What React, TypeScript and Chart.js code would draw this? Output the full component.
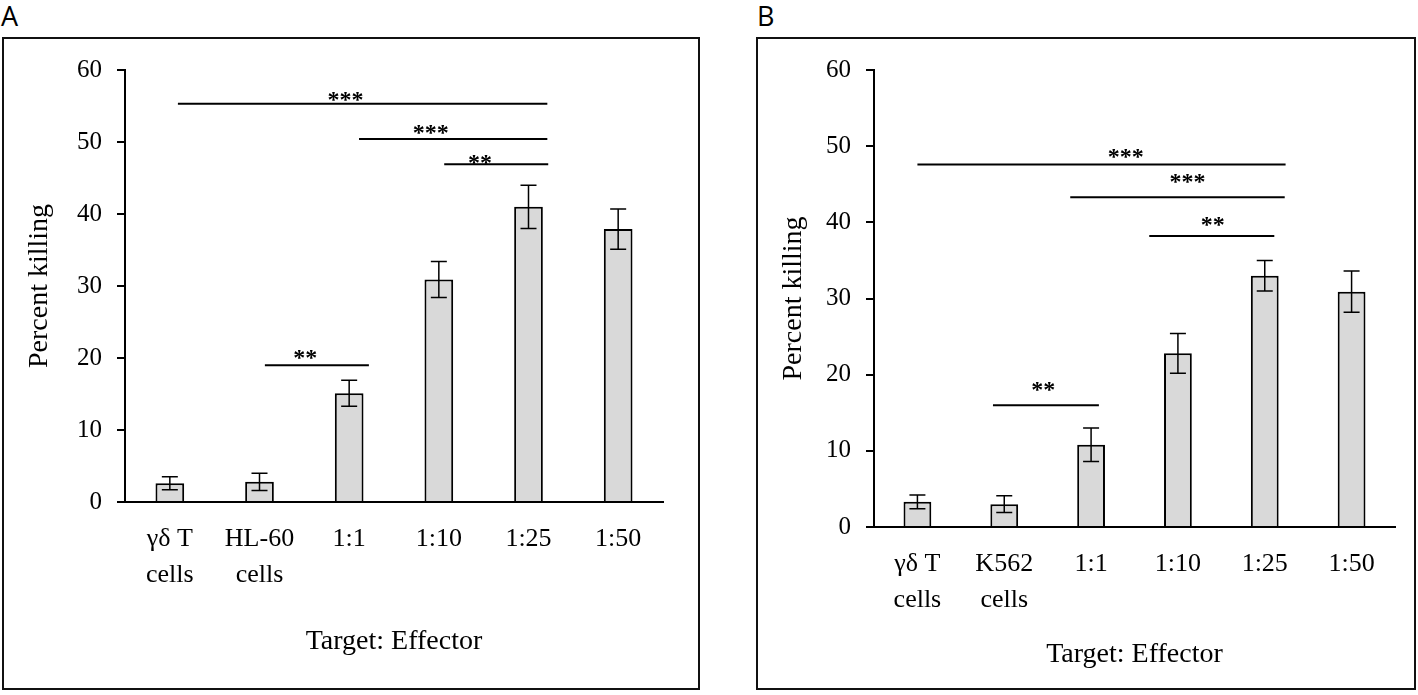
import { useEffect, useRef } from 'react';
import { Chart, registerables } from 'chart.js';

Chart.register(...registerables);

const SERIF = "'Liberation Serif', 'Times New Roman', serif";

// Panel A: HL-60 target cells
const categoriesA = [['γδ T', 'cells'], ['HL-60', 'cells'], '1:1', '1:10', '1:25', '1:50'];
const killingA = [2.6, 2.8, 15.1, 30.9, 41.0, 37.9];
const errorA = [0.9, 1.2, 1.8, 2.5, 3.0, 2.8];
// significance bars: from/to in category index, y in percent, star label position
const sigA = [
  { from: 0.09, to: 4.21, y: 55.3, text: '***', tx: 1.96, ty: 56.5 },
  { from: 2.11, to: 4.21, y: 50.4, text: '***', tx: 2.91, ty: 51.9 },
  { from: 3.06, to: 4.22, y: 46.9, text: '**', tx: 3.46, ty: 47.8 },
  { from: 1.06, to: 2.22, y: 19.0, text: '**', tx: 1.51, ty: 20.7 },
];

// Panel B: K562 target cells
const categoriesB = [['γδ T', 'cells'], ['K562', 'cells'], '1:1', '1:10', '1:25', '1:50'];
const killingB = [3.3, 3.0, 10.8, 22.8, 33.0, 30.9];
const errorB = [0.9, 1.1, 2.2, 2.6, 2.0, 2.7];
const sigB = [
  { from: 0.0, to: 4.24, y: 47.6, text: '***', tx: 2.4, ty: 49.2 },
  { from: 1.76, to: 4.23, y: 43.3, text: '***', tx: 3.11, ty: 45.9 },
  { from: 2.67, to: 4.11, y: 38.2, text: '**', tx: 3.4, ty: 40.3 },
  { from: 0.87, to: 2.09, y: 16.0, text: '**', tx: 1.45, ty: 18.6 },
];

const yMin = 0;
const yMax = 60;
const yStep = 10;

type Sig = { from: number; to: number; y: number; text: string; tx: number; ty: number };

const Panel = ({
  letter,
  left,
  width,
  labels,
  values,
  errors,
  sigs,
  yWidth,
  xHeight,
  pad,
}: {
  letter: string;
  left: number;
  width: number;
  labels: (string | string[])[];
  values: number[];
  errors: number[];
  sigs: Sig[];
  yWidth: number;
  xHeight: number;
  pad: { left: number; right: number; top: number; bottom: number };
}) => {
  const chartRef = useRef<HTMLCanvasElement | null>(null);

  useEffect(() => {
    if (!chartRef.current) return;

    // error bars + significance brackets
    const marks = {
      id: 'marks',
      afterDatasetsDraw(chart: any) {
        const { ctx } = chart;
        const x = chart.scales.x;
        const y = chart.scales.y;
        ctx.save();
        ctx.strokeStyle = '#000';
        ctx.lineWidth = 1.5;
        errors.forEach((e, i) => {
          const cx = x.getPixelForValue(i);
          const top = y.getPixelForValue(values[i] + e);
          const bot = y.getPixelForValue(values[i] - e);
          ctx.beginPath();
          ctx.moveTo(cx, top);
          ctx.lineTo(cx, bot);
          ctx.moveTo(cx - 8, top);
          ctx.lineTo(cx + 8, top);
          ctx.moveTo(cx - 8, bot);
          ctx.lineTo(cx + 8, bot);
          ctx.stroke();
        });
        ctx.lineWidth = 2;
        ctx.fillStyle = '#000';
        ctx.font = `bold 24px ${SERIF}`;
        ctx.textAlign = 'center';
        ctx.textBaseline = 'alphabetic';
        sigs.forEach((s) => {
          const py = y.getPixelForValue(s.y);
          ctx.beginPath();
          ctx.moveTo(x.getPixelForValue(s.from), py);
          ctx.lineTo(x.getPixelForValue(s.to), py);
          ctx.stroke();
          ctx.fillText(s.text, x.getPixelForValue(s.tx), y.getPixelForValue(s.ty) + 12);
        });
        ctx.restore();
      },
    };

    const chart = new Chart(chartRef.current, {
      type: 'bar',
      data: {
        labels,
        datasets: [
          {
            data: values,
            backgroundColor: '#d9d9d9',
            borderColor: '#000',
            borderWidth: 2,
            barPercentage: 0.32,
            categoryPercentage: 1,
          },
        ],
      },
      options: {
        animation: false,
        responsive: true,
        maintainAspectRatio: false,
        layout: { padding: pad },
        plugins: {
          legend: { display: false },
          tooltip: { enabled: false },
        },
        scales: {
          x: {
            grid: { display: false, drawTicks: false },
            border: { display: true, color: '#000', width: 2 },
            ticks: {
              color: '#000',
              font: { family: SERIF, size: 26, lineHeight: 1.38 },
              padding: 19,
              maxRotation: 0,
              autoSkip: false,
            },
            title: {
              display: true,
              text: 'Target: Effector',
              color: '#000',
              font: { family: SERIF, size: 28 },
              padding: 0,
            },
            afterFit: (s: any) => {
              s.height = xHeight;
            },
          },
          y: {
            min: yMin,
            max: yMax,
            ticks: {
              stepSize: yStep,
              color: '#000',
              font: { family: SERIF, size: 25 },
              padding: 15,
            },
            grid: { drawOnChartArea: false, color: '#000', lineWidth: 2, tickLength: 8 },
            border: { color: '#000', width: 2 },
            title: {
              display: true,
              text: 'Percent killing',
              color: '#000',
              font: { family: SERIF, size: 28 },
              padding: { top: 19, bottom: 0 },
            },
            afterFit: (s: any) => {
              s.width = yWidth;
            },
          },
        },
      },
      plugins: [marks],
    });

    return () => {
      chart.destroy();
    };
  }, []);

  return (
    <>
      <div
        style={{
          position: 'absolute',
          left: letter === 'A' ? 1 : left + 1,
          top: 0,
          fontFamily: "'Open Sans', 'Liberation Sans', Arial, sans-serif",
          fontSize: 27,
          lineHeight: '32px',
          color: '#000',
        }}
      >
        {letter}
      </div>
      <div
        style={{
          position: 'absolute',
          left,
          top: 37,
          width,
          height: 653,
          border: '2px solid #111',
          boxSizing: 'border-box',
        }}
      >
        <div style={{ position: 'relative', width: width - 4, height: 649 }}>
          <canvas ref={chartRef}></canvas>
        </div>
      </div>
    </>
  );
};

export default function App() {
  return (
    <div
      style={{
        position: 'fixed',
        left: 0,
        top: 0,
        width: 1418,
        height: 695,
        background: '#fff',
        overflow: 'hidden',
      }}
    >
      <Panel
        letter="A"
        left={2}
        width={698}
        labels={categoriesA}
        values={killingA}
        errors={errorA}
        sigs={sigA}
        yWidth={121}
        xHeight={156}
        pad={{ left: 0, right: 35, top: 31, bottom: 30 }}
      />
      <Panel
        letter="B"
        left={756}
        width={660}
        labels={categoriesB}
        values={killingB}
        errors={errorB}
        sigs={sigB}
        yWidth={116}
        xHeight={144}
        pad={{ left: 0, right: 19, top: 31, bottom: 17 }}
      />
    </div>
  );
}
